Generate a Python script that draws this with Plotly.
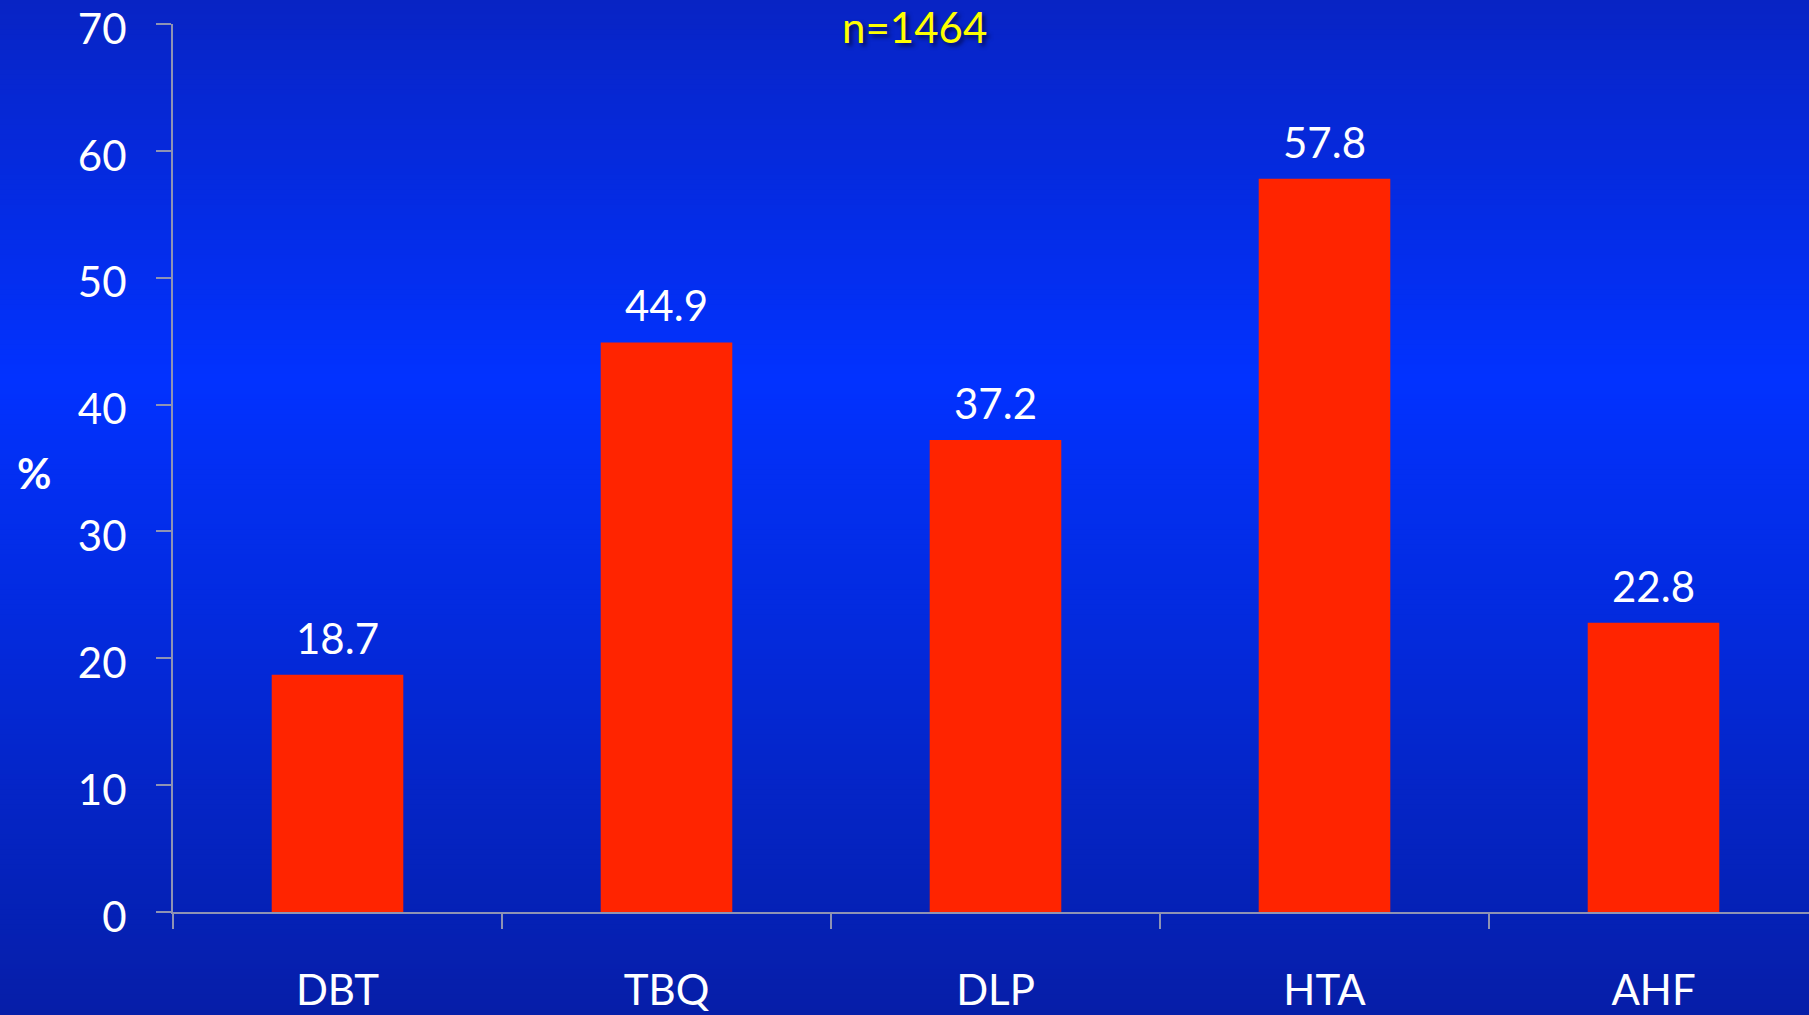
import plotly.graph_objects as go

# Cardiovascular risk factors, prevalence (%)
categories = ["DBT", "TBQ", "DLP", "HTA", "AHF"]
prevalence = [18.7, 44.9, 37.2, 57.8, 22.8]
y_ticks = [0, 10, 20, 30, 40, 50, 60, 70]
sample_label = "n=1464"

W, H = 1809, 1015
M_L, M_R, M_T, M_B = 173, 0, 24, 103
plot_w = W - M_L - M_R
plot_h = H - M_T - M_B
cat_px = 329.0  # pixel width of one category slot

FONT = "Lato"
WHITE = "#ffffff"
AXIS_GREY = "#8e93b4"

fig = go.Figure()

fig.add_trace(go.Bar(
    x=categories,
    y=prevalence,
    marker=dict(color="#ff2400", line=dict(width=0)),
    width=0.4,
    hoverinfo="x+y",
))

# value labels above each bar
for c, v in zip(categories, prevalence):
    fig.add_annotation(
        x=c, y=v, text=f"{v:.1f}", showarrow=False,
        xref="x", yref="y", yanchor="bottom", yshift=10,
        font=dict(family=FONT, size=42, color=WHITE),
    )

# vertical blue gradient background built from thin horizontal strips
stops = [(0, (8, 36, 196)), (380, (2, 50, 255)), (H, (6, 30, 168))]


def color_at(py):
    for (p0, c0), (p1, c1) in zip(stops[:-1], stops[1:]):
        if p0 <= py <= p1:
            t = (py - p0) / (p1 - p0)
            return tuple(round(a + (b - a) * t) for a, b in zip(c0, c1))
    return stops[-1][1]


def px_to_paper_y(py):
    return (H - M_B - py) / plot_h


def px_to_paper_x(px):
    return (px - M_L) / plot_w


step = 5
shapes = []
for py in range(0, H, step):
    r, g, b = color_at(py + step / 2)
    shapes.append(dict(
        type="rect", xref="paper", yref="paper", layer="below",
        x0=px_to_paper_x(-2), x1=px_to_paper_x(W + 2),
        y0=px_to_paper_y(py + step + 0.5), y1=px_to_paper_y(py - 0.5),
        fillcolor=f"rgb({r},{g},{b})", line=dict(width=0),
    ))

fig.update_layout(shapes=shapes)

# sample size caption
fig.add_annotation(
    x=px_to_paper_x(914), y=px_to_paper_y(27), xref="paper", yref="paper",
    text=sample_label, showarrow=False, xanchor="center", yanchor="middle",
    font=dict(family=FONT, size=42, color="#ffff00",
              shadow="3px 3px 4px rgba(0,0,40,0.7)"),
)

# y-axis title
fig.add_annotation(
    x=px_to_paper_x(34), y=px_to_paper_y(473), xref="paper", yref="paper",
    text="<b>%</b>", showarrow=False, xanchor="center", yanchor="middle",
    font=dict(family=FONT, size=42, color=WHITE),
)

fig.update_xaxes(
    type="category",
    range=[-0.5, -0.5 + plot_w / cat_px],
    showline=True, linecolor=AXIS_GREY, linewidth=2,
    ticks="outside", ticklen=15, tickwidth=2, tickcolor=AXIS_GREY,
    tickson="boundaries",
    showgrid=False, zeroline=False,
    tickfont=dict(family=FONT, size=42, color=WHITE),
    ticklabelstandoff=41,
    ticklabeloverflow="allow",
    automargin=False,
)

fig.update_yaxes(
    range=[0, 70],
    tickvals=y_ticks,
    showline=True, linecolor=AXIS_GREY, linewidth=2,
    ticks="outside", ticklen=15, tickwidth=2, tickcolor=AXIS_GREY,
    showgrid=False, zeroline=False,
    tickfont=dict(family=FONT, size=42, color=WHITE),
    ticklabelstandoff=21,
    ticklabelshift=5,
    ticklabeloverflow="allow",
    automargin=False,
)

fig.update_layout(
    width=W, height=H,
    margin=dict(l=M_L, r=M_R, t=M_T, b=M_B, pad=0, autoexpand=False),
    paper_bgcolor="#0a2ad0",
    plot_bgcolor="rgba(0,0,0,0)",
    showlegend=False,
    bargap=0.6,
    font=dict(family=FONT, color=WHITE),
)

fig.write_html("out.html")
